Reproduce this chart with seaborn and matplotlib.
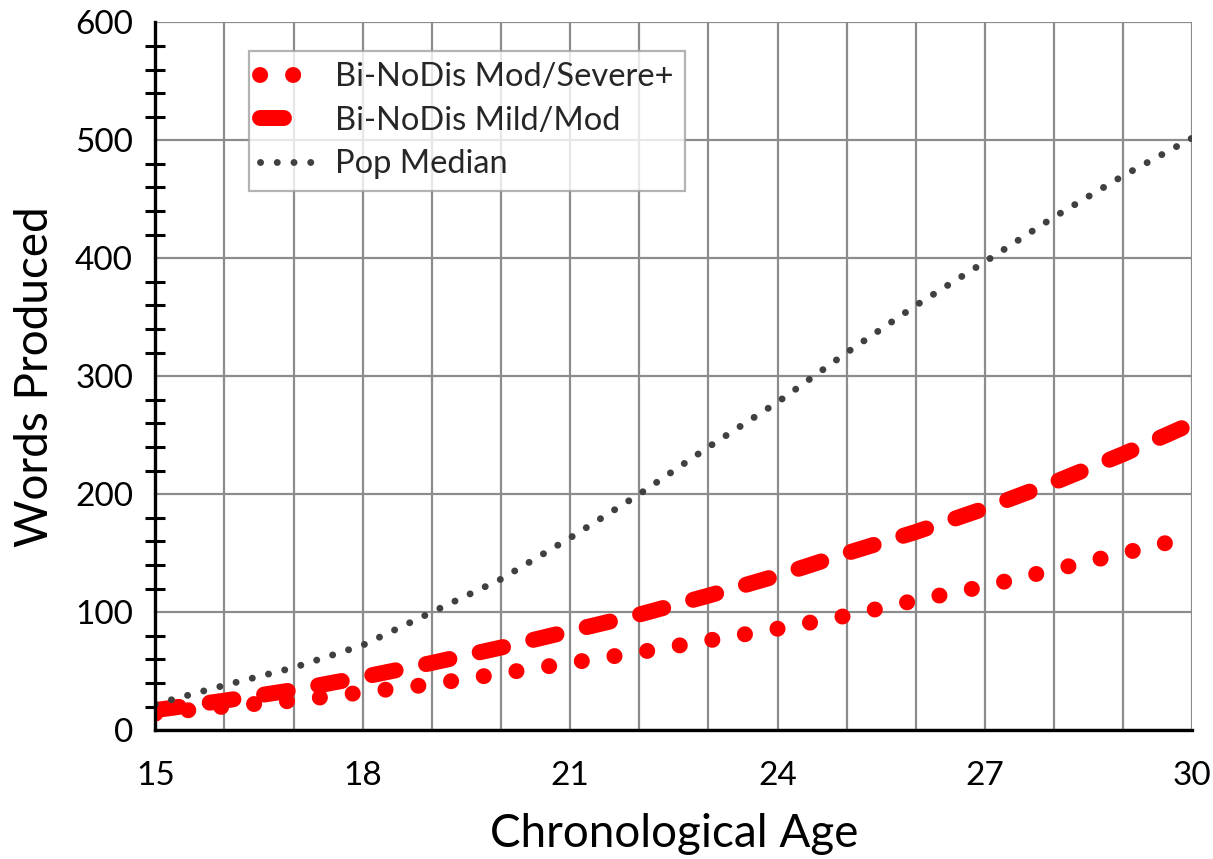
import numpy as np
import pandas as pd
import matplotlib
matplotlib.use("Agg")
import matplotlib.pyplot as plt
import seaborn as sns
from matplotlib.ticker import MultipleLocator, FuncFormatter

# chart data
ages = [15, 16, 17, 18, 19, 20, 21, 22, 23, 24, 25, 26, 27, 28, 29, 30]
mod_severe = [14, 20, 25, 32, 39, 48, 57, 66, 76, 86, 97, 110, 122, 136, 150, 164]
mild_mod = [17, 25, 34, 45, 57, 70, 84, 98, 114, 131, 150, 168, 188, 210, 234, 260]
pop_median = [22, 38, 53, 72, 100, 128, 163, 200, 240, 278, 320, 360, 397, 435, 470, 502]

series_names = ["Bi-NoDis Mod/Severe+", "Bi-NoDis Mild/Mod", "Pop Median"]

df = pd.DataFrame({
    "age": ages,
    series_names[0]: mod_severe,
    series_names[1]: mild_mod,
    series_names[2]: pop_median,
})

sns.set_theme(style="white")
plt.rcParams['font.family'] = ['Lato', 'DejaVu Sans']

fig, ax = plt.subplots(figsize=(12.13, 8.59), dpi=100)
fig.subplots_adjust(left=0.128, right=0.983, top=0.974, bottom=0.150)

# red dotted (big round dots)
sns.lineplot(data=df, x="age", y=series_names[0], ax=ax, color="#ff0000",
             lw=11.5, label=series_names[0], zorder=4)
ax.lines[-1].set_dashes((0.01, 2.06))
ax.lines[-1].set_dash_capstyle("round")

# red dashed
sns.lineplot(data=df, x="age", y=series_names[1], ax=ax, color="#ff0000",
             lw=11.5, label=series_names[1], zorder=4)
ax.lines[-1].set_dashes((1.5, 1.94))
ax.lines[-1].set_dash_capstyle("round")

# grey dotted
sns.lineplot(data=df, x="age", y=series_names[2], ax=ax, color="#404040",
             lw=5, label=series_names[2], zorder=5)
ax.lines[-1].set_dashes((0.01, 2.4))
ax.lines[-1].set_dash_capstyle("round")

ax.set_xlim(15, 30)
ax.set_ylim(0, 600)

ax.xaxis.set_major_locator(MultipleLocator(1))
ax.xaxis.set_major_formatter(FuncFormatter(lambda v, p: f"{int(round(v))}" if int(round(v)) % 3 == 0 else ""))
ax.yaxis.set_major_locator(MultipleLocator(100))
ax.yaxis.set_minor_locator(MultipleLocator(20))

ax.grid(True, which="major", color="#8c8c8c", lw=1.6)
ax.set_axisbelow(True)

for s in ["top", "right"]:
    ax.spines[s].set_visible(False)
for s in ["left", "bottom"]:
    ax.spines[s].set_color("black")
    ax.spines[s].set_linewidth(2.4)
    ax.spines[s].set_zorder(6)

ax.tick_params(axis="both", which="major", direction="inout", length=16, width=2.2,
               color="black", labelsize=24, labelcolor="black")
ax.tick_params(axis="y", which="minor", direction="inout", length=14, width=2.2, color="black", left=True)
ax.tick_params(axis="x", which="major", pad=14)
ax.tick_params(axis="y", which="major", pad=8)

ax.set_xlabel("Chronological Age", fontsize=33, color="black", labelpad=16)
ax.set_ylabel("Words Produced", fontsize=33, color="black", labelpad=14)

leg = ax.legend(loc="upper left", bbox_to_anchor=(0.09, 0.96), borderaxespad=0, fontsize=23.5,
                frameon=True, fancybox=False, handlelength=1.6, borderpad=0.35,
                labelspacing=0.42, handletextpad=0.7)
leg.get_frame().set_edgecolor("#a0a0a0")
leg.get_frame().set_linewidth(1.6)
leg.set_zorder(10)

plt.savefig("out.png", dpi=100)
plt.close()
